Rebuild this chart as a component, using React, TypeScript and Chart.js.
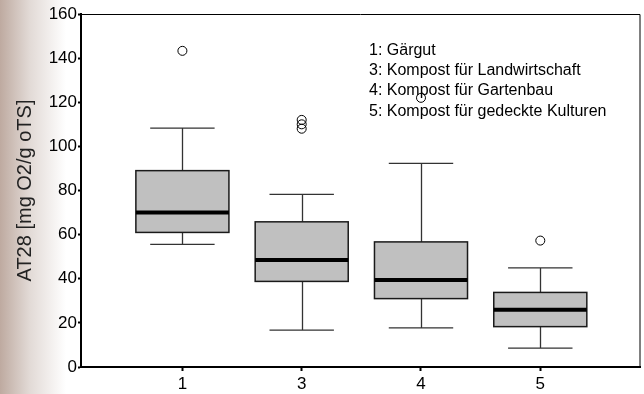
import React, { useEffect, useRef } from "react";
import { Chart, registerables } from "chart.js";

Chart.register(...registerables);

// ---- data ----
const categories = ["1", "3", "4", "5"];
const whiskerLow = [55.6, 16.7, 17.7, 8.6];
const quartile1 = [61, 38.8, 31, 18.3];
const medians = [70, 48.5, 39.4, 25.9];
const quartile3 = [89, 65.8, 56.7, 33.8];
const whiskerHigh = [108.3, 78.2, 92.3, 44.9];
const outliers = [[143.3], [112, 110, 108], [122], [57.3]];
const legendLines = [
  "1: Gärgut",
  "3: Kompost für Landwirtschaft",
  "4: Kompost für Gartenbau",
  "5: Kompost für gedeckte Kulturen",
];
const yTitle = "AT28 [mg O2/g oTS]";
const yMin = 0;
const yMax = 160;
const yStep = 20;

const FONT = "'Liberation Sans', Arial, sans-serif";

const boxPlugin = {
  id: "boxes",
  beforeDraw(chart: any) {
    const { ctx, width, height } = chart;
    ctx.save();
    ctx.fillStyle = "#ffffff";
    ctx.fillRect(0, 0, width, height);
    const g = ctx.createLinearGradient(0, 0, 66, 0);
    g.addColorStop(0, "rgb(190,170,160)");
    g.addColorStop(0.45, "rgb(226,218,214)");
    g.addColorStop(1, "rgba(255,255,255,1)");
    ctx.fillStyle = g;
    ctx.fillRect(0, 0, 66, height);
    ctx.restore();
  },
  beforeDatasetsDraw(chart: any) {
    const { ctx, chartArea } = chart;
    const xs = chart.scales.x;
    const ys = chart.scales.y;
    ctx.save();
    // annotation text
    ctx.fillStyle = "#000";
    ctx.font = `16px ${FONT}`;
    ctx.textBaseline = "middle";
    ctx.textAlign = "left";
    legendLines.forEach((t, i) => {
      ctx.fillText(t, chartArea.left + 288, chartArea.top + 36.5 + i * 20.2);
    });
    // frame top/right
    ctx.strokeStyle = "#000";
    ctx.lineWidth = 1;
    ctx.beginPath();
    ctx.moveTo(chartArea.left, chartArea.top + 0.5);
    ctx.lineTo(chartArea.right - 0.5, chartArea.top + 0.5);
    ctx.lineTo(chartArea.right - 0.5, chartArea.bottom);
    ctx.stroke();

    categories.forEach((_, i) => {
      const xc = xs.getPixelForValue(i);
      const half = xs.getPixelForValue(i + 0.39) - xc;
      const capHalf = xs.getPixelForValue(i + 0.27) - xc;
      const yLo = ys.getPixelForValue(whiskerLow[i]);
      const yQ1 = ys.getPixelForValue(quartile1[i]);
      const yMed = ys.getPixelForValue(medians[i]);
      const yQ3 = ys.getPixelForValue(quartile3[i]);
      const yHi = ys.getPixelForValue(whiskerHigh[i]);
      const cx = Math.round(xc) + 0.5;
      // whiskers
      ctx.strokeStyle = "#333";
      ctx.lineWidth = 1.3;
      ctx.beginPath();
      ctx.moveTo(cx, yQ3);
      ctx.lineTo(cx, yHi);
      ctx.moveTo(cx, yQ1);
      ctx.lineTo(cx, yLo);
      ctx.moveTo(xc - capHalf, yHi);
      ctx.lineTo(xc + capHalf, yHi);
      ctx.moveTo(xc - capHalf, yLo);
      ctx.lineTo(xc + capHalf, yLo);
      ctx.stroke();
      // box
      ctx.fillStyle = "#c0c0c0";
      ctx.fillRect(xc - half, yQ3, half * 2, yQ1 - yQ3);
      ctx.strokeStyle = "#1a1a1a";
      ctx.lineWidth = 1.5;
      ctx.strokeRect(xc - half, yQ3, half * 2, yQ1 - yQ3);
      // median
      ctx.strokeStyle = "#000";
      ctx.lineWidth = 4;
      ctx.beginPath();
      ctx.moveTo(xc - half, yMed);
      ctx.lineTo(xc + half, yMed);
      ctx.stroke();
    });
    ctx.restore();
  },
};

export default function App() {
  const ref = useRef<HTMLCanvasElement | null>(null);
  useEffect(() => {
    document.body.style.margin = "0";
    const canvas = ref.current;
    if (!canvas) return;
    const outlierPoints: { x: number; y: number }[] = [];
    outliers.forEach((arr, i) => arr.forEach((v) => outlierPoints.push({ x: i, y: v })));
    const chart = new Chart(canvas, {
      type: "scatter",
      data: {
        datasets: [
          {
            data: outlierPoints,
            pointRadius: 4.5,
            pointHoverRadius: 4.5,
            borderColor: "#000",
            borderWidth: 1,
            backgroundColor: "rgba(0,0,0,0)",
          },
        ],
      },
      options: {
        animation: false,
        responsive: false,
        devicePixelRatio: 1,
        events: [],
        layout: { autoPadding: false, padding: { top: 14, right: 3.5, left: 0, bottom: 0 } },
        plugins: { legend: { display: false }, tooltip: { enabled: false } },
        scales: {
          x: {
            type: "linear",
            min: -0.85,
            max: 3.84,
            afterBuildTicks: (s: any) => {
              s.ticks = categories.map((_, i) => ({ value: i }));
            },
            afterFit: (s: any) => {
              s.height = 27;
              s.paddingLeft = 0;
              s.paddingRight = 0;
            },
            ticks: {
              callback: (v: any) => categories[v as number] ?? "",
              color: "#000",
              font: { family: FONT, size: 17 },
              padding: 3,
              autoSkip: false,
              maxRotation: 0,
            },
            grid: { drawOnChartArea: false, tickLength: 4, tickColor: "#000", tickWidth: 2 },
            border: { color: "#000", width: 2 },
          },
          y: {
            min: yMin,
            max: yMax,
            afterFit: (s: any) => {
              s.width = 81;
            },
            ticks: {
              stepSize: yStep,
              color: "#000",
              font: { family: FONT, size: 17 },
              padding: 1,
            },
            grid: { drawOnChartArea: false, tickLength: 3, tickColor: "#000", tickWidth: 2 },
            border: { color: "#000", width: 2 },
            title: {
              display: true,
              text: yTitle,
              color: "#222",
              font: { family: FONT, size: 20 },
              padding: { top: 13, bottom: 0 },
            },
          },
        },
      },
      plugins: [boxPlugin],
    });
    return () => chart.destroy();
  }, []);
  return (
    <div style={{ width: 644, height: 394 }}>
      <canvas ref={ref} width={644} height={394} style={{ display: "block" }} />
    </div>
  );
}
